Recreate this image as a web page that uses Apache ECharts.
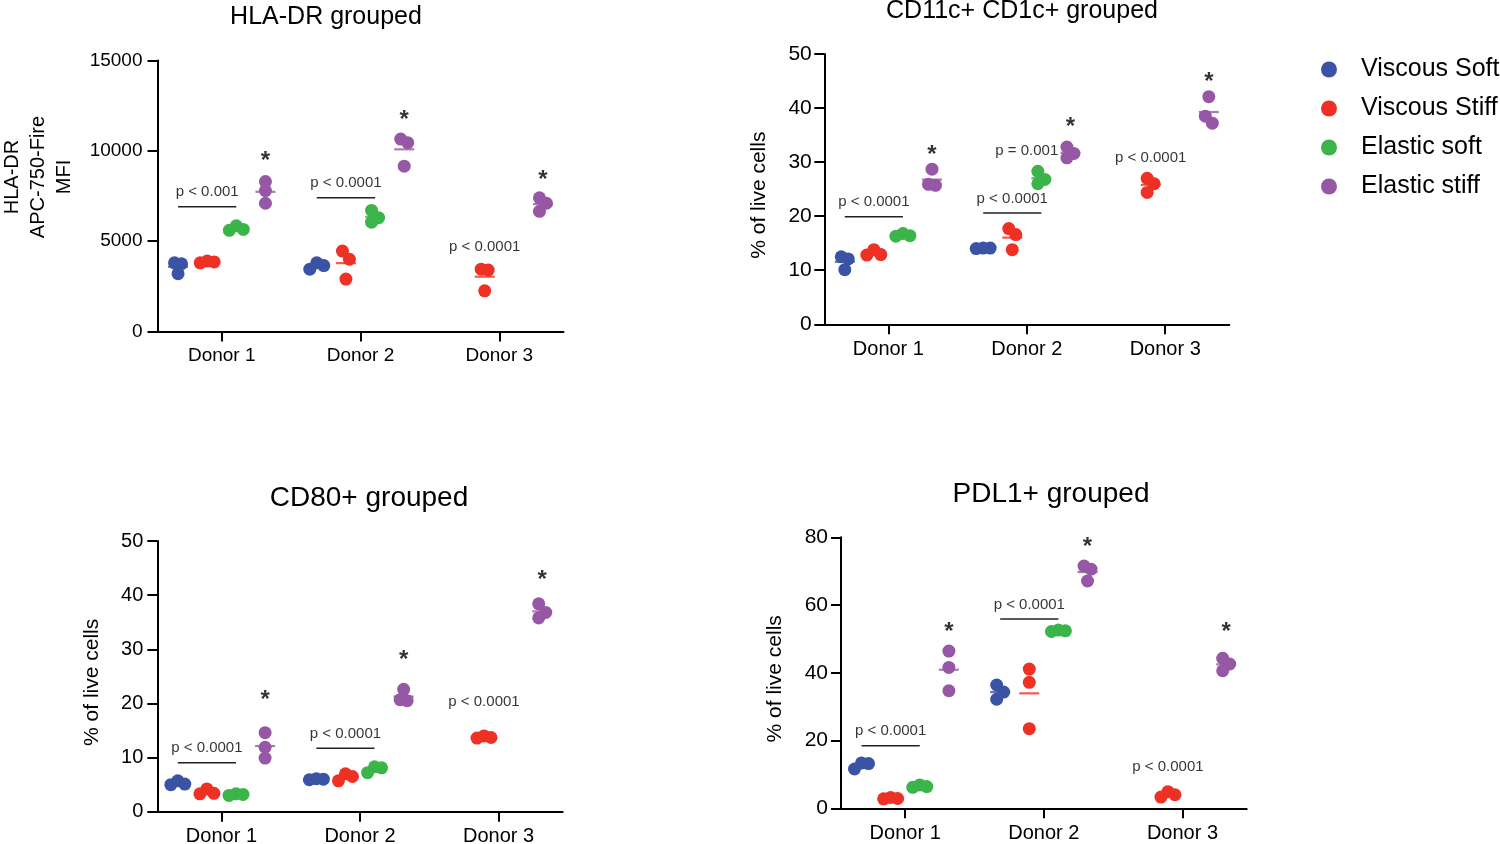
<!DOCTYPE html>
<html><head><meta charset="utf-8">
<script src="https://cdn.jsdelivr.net/npm/echarts@6/dist/echarts.min.js"></script>
<style>html,body{margin:0;padding:0;background:#fff}#chart{width:1500px;height:844px}</style>
</head><body><div id="chart"></div>
<script>
// ---------- categories / tick labels ----------
const donors = ['Donor 1', 'Donor 2', 'Donor 3'];
const groups = ['Viscous Soft', 'Viscous Stiff', 'Elastic soft', 'Elastic stiff'];

// ---------- HLA-DR grouped (MFI) ----------
const hlaViscousSoft  = [[3800, 3750, 3200], [3800, 3650, 3450], []];
const hlaViscousStiff = [[3900, 3850, 3800], [4450, 4000, 2900], [3450, 3400, 2250]];
const hlaElasticSoft  = [[5850, 5650, 5600], [6700, 6300, 6050], []];
const hlaElasticStiff = [[8300, 7800, 7100], [10650, 10450, 9150], [7400, 7100, 6650]];
const hlaBrackets = [{donor: 1, y: 6900, text: 'p < 0.001'}, {donor: 2, y: 7400, text: 'p < 0.0001'}];
const hlaNotes = [{donor: 3, slot: 1, y: 4700, text: 'p < 0.0001'}];
const hlaStars = [9685, 11990, 8620];

// ---------- CD11c+ CD1c+ grouped (% of live cells) ----------
const cd11ViscousSoft  = [[12.5, 12.1, 10.1], [14.1, 14.0, 14.1], []];
const cd11ViscousStiff = [[13.8, 12.8, 12.9], [17.7, 16.6, 13.8], [27.0, 26.0, 24.4]];
const cd11ElasticSoft  = [[16.8, 16.4, 16.3], [28.3, 26.8, 26.0], []];
const cd11ElasticStiff = [[28.7, 25.9, 25.7], [32.8, 31.6, 30.8], [42.1, 38.5, 37.2]];
const cd11Brackets = [{donor: 1, y: 19.9, text: 'p < 0.0001'}, {donor: 2, y: 20.6, text: 'p < 0.0001'}];
const cd11Notes = [{donor: 2, slot: 1.5, y: 32.1, text: 'p = 0.001'}, {donor: 3, slot: 1, y: 30.8, text: 'p < 0.0001'}];
const cd11Stars = [32.2, 37.4, 45.7];

// ---------- CD80+ grouped (% of live cells) ----------
const cd80ViscousSoft  = [[5.7, 5.1, 5.0], [6.1, 5.9, 6.0], []];
const cd80ViscousStiff = [[4.2, 3.4, 3.3], [7.0, 6.5, 5.7], [14.0, 13.7, 13.6]];
const cd80ElasticSoft  = [[3.3, 3.0, 3.2], [8.3, 8.1, 7.2], []];
const cd80ElasticStiff = [[14.6, 11.9, 9.9], [22.6, 20.7, 20.5], [38.4, 36.8, 35.8]];
const cd80Brackets = [{donor: 1, y: 9.05, text: 'p < 0.0001'}, {donor: 2, y: 11.7, text: 'p < 0.0001'}];
const cd80Notes = [{donor: 3, slot: 1, y: 20.3, text: 'p < 0.0001'}];
const cd80Stars = [21.4, 28.8, 43.7];

// ---------- PDL1+ grouped (% of live cells) ----------
const pdlViscousSoft  = [[13.4, 13.2, 11.6], [36.4, 34.3, 32.2], []];
const pdlViscousStiff = [[3.2, 2.8, 2.9], [41.1, 37.2, 23.5], [3.3, 4.9, 4.0]];
const pdlElasticSoft  = [[6.9, 6.2, 6.4], [52.6, 52.2, 52.4], []];
const pdlElasticStiff = [[46.4, 41.6, 34.7], [71.5, 70.6, 67.1], [44.3, 42.6, 40.6]];
const pdlBrackets = [{donor: 1, y: 18.5, text: 'p < 0.0001'}, {donor: 2, y: 55.9, text: 'p < 0.0001'}];
const pdlNotes = [{donor: 3, slot: 1, y: 12.2, text: 'p < 0.0001'}];
const pdlStars = [53.5, 78.6, 53.5];

const panels = [
  {title: 'HLA-DR grouped', yName: 'HLA-DR\nAPC-750-Fire\nMFI', yMax: 15000, yStep: 5000,
   values: [hlaViscousSoft, hlaViscousStiff, hlaElasticSoft, hlaElasticStiff],
   brackets: hlaBrackets, notes: hlaNotes, stars: hlaStars},
  {title: 'CD11c+ CD1c+ grouped', yName: '% of live cells', yMax: 50, yStep: 10,
   values: [cd11ViscousSoft, cd11ViscousStiff, cd11ElasticSoft, cd11ElasticStiff],
   brackets: cd11Brackets, notes: cd11Notes, stars: cd11Stars},
  {title: 'CD80+ grouped', yName: '% of live cells', yMax: 50, yStep: 10,
   values: [cd80ViscousSoft, cd80ViscousStiff, cd80ElasticSoft, cd80ElasticStiff],
   brackets: cd80Brackets, notes: cd80Notes, stars: cd80Stars},
  {title: 'PDL1+ grouped', yName: '% of live cells', yMax: 80, yStep: 20,
   values: [pdlViscousSoft, pdlViscousStiff, pdlElasticSoft, pdlElasticStiff],
   brackets: pdlBrackets, notes: pdlNotes, stars: pdlStars}
];

// ---------- layout & style ----------
const colors = ['#3a53a4', '#ee3124', '#3bb44a', '#9657a5'];
const FONT = '"Liberation Sans", Arial, Helvetica, sans-serif';
const layouts = [
  {grid: {left: 157.5, top: 60.5, width: 406, height: 271}, title: [326, 17.5, 25], nameGap: 80, namePad: [0, 0, 0, 38],
   yFont: 19, xFont: 19, yMargin: 15, xMargin: 15, nameFont: 20},
  {grid: {left: 824.3, top: 54, width: 405, height: 270.3}, title: [1022, 11, 25], nameGap: 52, namePad: [0, 12, 0, 0],
   yFont: 21, xFont: 20, yMargin: 12.5, xMargin: 15, nameFont: 21},
  {grid: {left: 157.3, top: 541, width: 405.4, height: 270.7}, title: [369, 497.8, 28], nameGap: 52, namePad: [0, 12, 0, 0],
   yFont: 20, xFont: 20, yMargin: 14, xMargin: 15, nameFont: 21},
  {grid: {left: 841, top: 537.3, width: 405.7, height: 271}, title: [1051, 494, 28], nameGap: 53, namePad: [0, 12, 0, 0],
   yFont: 21, xFont: 20, yMargin: 13, xMargin: 15, nameFont: 21}
];
const X_MIN = 0.537, X_MAX = 3.463;
const SLOT_W = 0.21;
const slot = g => (g - 1.5) * SLOT_W;
const DOT = 13, SPREAD = 7, OVERLAP = 9;

// beeswarm-like horizontal spread (in pixels) for points that would overlap
function spread(vals, pxPerY) {
  const order = vals.map((v, i) => i).sort((a, b) => vals[b] - vals[a]);
  const placed = [];
  const out = new Array(vals.length).fill(0);
  order.forEach(i => {
    const yp = vals[i] * pxPerY;
    const cands = [0, SPREAD, -SPREAD, 2 * SPREAD, -2 * SPREAD];
    let c = cands.find(cx => placed.every(p => !(Math.abs(p.y - yp) < OVERLAP && Math.abs(p.x - cx) < SPREAD * 0.9)));
    if (c === undefined) c = 0;
    placed.push({i, y: yp, x: c});
  });
  const parent = placed.map((p, k) => k);
  const find = k => parent[k] === k ? k : (parent[k] = find(parent[k]));
  for (let a = 0; a < placed.length; a++)
    for (let b = a + 1; b < placed.length; b++)
      if (Math.abs(placed[a].y - placed[b].y) < OVERLAP) parent[find(a)] = find(b);
  const ext = {};
  placed.forEach((p, k) => {
    const r = find(k);
    ext[r] = ext[r] || {min: Infinity, max: -Infinity};
    ext[r].min = Math.min(ext[r].min, p.x); ext[r].max = Math.max(ext[r].max, p.x);
  });
  placed.forEach((p, k) => {
    const e = ext[find(k)];
    out[p.i] = p.x - (e.min + e.max) / 2;
  });
  return out;
}

const grids = [], xAxes = [], yAxes = [], series = [], graphics = [];
panels.forEach((pd, pi) => {
  const L = layouts[pi];
  grids.push(Object.assign({outerBoundsMode: 'none', containLabel: false}, L.grid));
  const pxPerX = L.grid.width / (X_MAX - X_MIN);
  const pxPerY = L.grid.height / pd.yMax;
  xAxes.push({
    type: 'value', gridIndex: pi, min: X_MIN, max: X_MAX,
    splitLine: {show: false},
    axisLine: {show: true, onZero: false, lineStyle: {color: '#000', width: 2}},
    axisTick: {show: true, customValues: [1, 2, 3], length: 10, lineStyle: {color: '#000', width: 2}},
    axisLabel: {show: true, customValues: [1, 2, 3], formatter: v => donors[Math.round(v) - 1],
      color: '#000', fontSize: L.xFont, fontFamily: FONT, margin: L.xMargin}
  });
  yAxes.push({
    type: 'value', gridIndex: pi, min: 0, max: pd.yMax, interval: pd.yStep,
    splitLine: {show: false},
    axisLine: {show: true, onZero: false, lineStyle: {color: '#000', width: 2}},
    axisTick: {show: true, length: 10, lineStyle: {color: '#000', width: 2}},
    axisLabel: {color: '#000', fontSize: L.yFont, fontFamily: FONT, margin: L.yMargin, formatter: v => String(v)},
    name: pd.yName, nameLocation: 'middle', nameGap: L.nameGap, nameRotate: 90,
    nameTextStyle: {color: '#000', fontSize: L.nameFont, fontFamily: FONT, lineHeight: 26, padding: L.namePad}
  });
  graphics.push({type: 'text', x: L.title[0], y: L.title[1], silent: true,
    style: {text: pd.title, fill: '#000', font: L.title[2] + 'px ' + FONT, textAlign: 'center', textVerticalAlign: 'middle'}});

  // dots + means
  pd.values.forEach((byDonor, g) => {
    const pts = [], means = [];
    byDonor.forEach((vals, d) => {
      if (!vals.length) return;
      const off = spread(vals, pxPerY);
      vals.forEach((v, k) => pts.push([d + 1 + slot(g) + off[k] / pxPerX, v]));
      means.push([d + 1 + slot(g), vals.reduce((a, b) => a + b, 0) / vals.length]);
    });
    series.push({type: 'scatter', name: groups[g], xAxisIndex: pi, yAxisIndex: pi,
      symbol: 'circle', symbolSize: DOT, itemStyle: {color: colors[g], opacity: 1}, z: 3, data: pts});
    series.push({type: 'scatter', name: groups[g], xAxisIndex: pi, yAxisIndex: pi, silent: true,
      symbol: 'rect', symbolSize: [20, 2.2], itemStyle: {color: colors[g]}, z: 4, data: means});
  });

  // comparison brackets
  pd.brackets.forEach(b => {
    series.push({type: 'line', xAxisIndex: pi, yAxisIndex: pi, silent: true, symbol: 'none', z: 2,
      lineStyle: {color: '#222', width: 1.5},
      data: [[b.donor + slot(0), b.y], [b.donor + slot(2), b.y]]});
  });
  const textStyle = {show: true, color: '#000', fontSize: 15, fontFamily: FONT, formatter: p => p.name};
  series.push({type: 'scatter', xAxisIndex: pi, yAxisIndex: pi, silent: true, symbolSize: 0.1, z: 5,
    itemStyle: {color: 'rgba(0,0,0,0)'},
    label: Object.assign({position: 'top', distance: 7}, textStyle),
    data: pd.brackets.map(b => ({name: b.text, value: [b.donor + (slot(0) + slot(2)) / 2, b.y]}))});
  series.push({type: 'scatter', xAxisIndex: pi, yAxisIndex: pi, silent: true, symbolSize: 0.1, z: 5,
    itemStyle: {color: 'rgba(0,0,0,0)'},
    label: Object.assign({position: 'inside'}, textStyle),
    data: pd.notes.map(n => ({name: n.text, value: [n.donor + slot(n.slot), n.y]}))});
  // significance asterisks above Elastic stiff
  series.push({type: 'scatter', xAxisIndex: pi, yAxisIndex: pi, silent: true, symbolSize: 0.1, z: 5,
    itemStyle: {color: 'rgba(0,0,0,0)'},
    label: {show: true, position: 'inside', formatter: '*', color: '#000', fontSize: 24, fontWeight: 'bold',
      fontFamily: FONT, offset: [0, 5]},
    data: pd.stars.map((y, d) => [d + 1 + slot(3), y])});
});

const chart = echarts.init(document.getElementById('chart'), null, {renderer: 'canvas'});
chart.setOption({
  backgroundColor: '#fff',
  animation: false,
  textStyle: {fontFamily: FONT},
  color: colors,
  grid: grids, xAxis: xAxes, yAxis: yAxes, series: series, graphic: graphics,
  legend: {
    data: groups, orient: 'vertical', left: 1321, top: 57, padding: 0, icon: 'circle',
    itemWidth: 54, itemHeight: 16, itemGap: 14, selectedMode: true,
    textStyle: {color: '#000', fontSize: 25, fontFamily: FONT, lineHeight: 24}
  },
  tooltip: {show: false}
});
</script></body></html>
